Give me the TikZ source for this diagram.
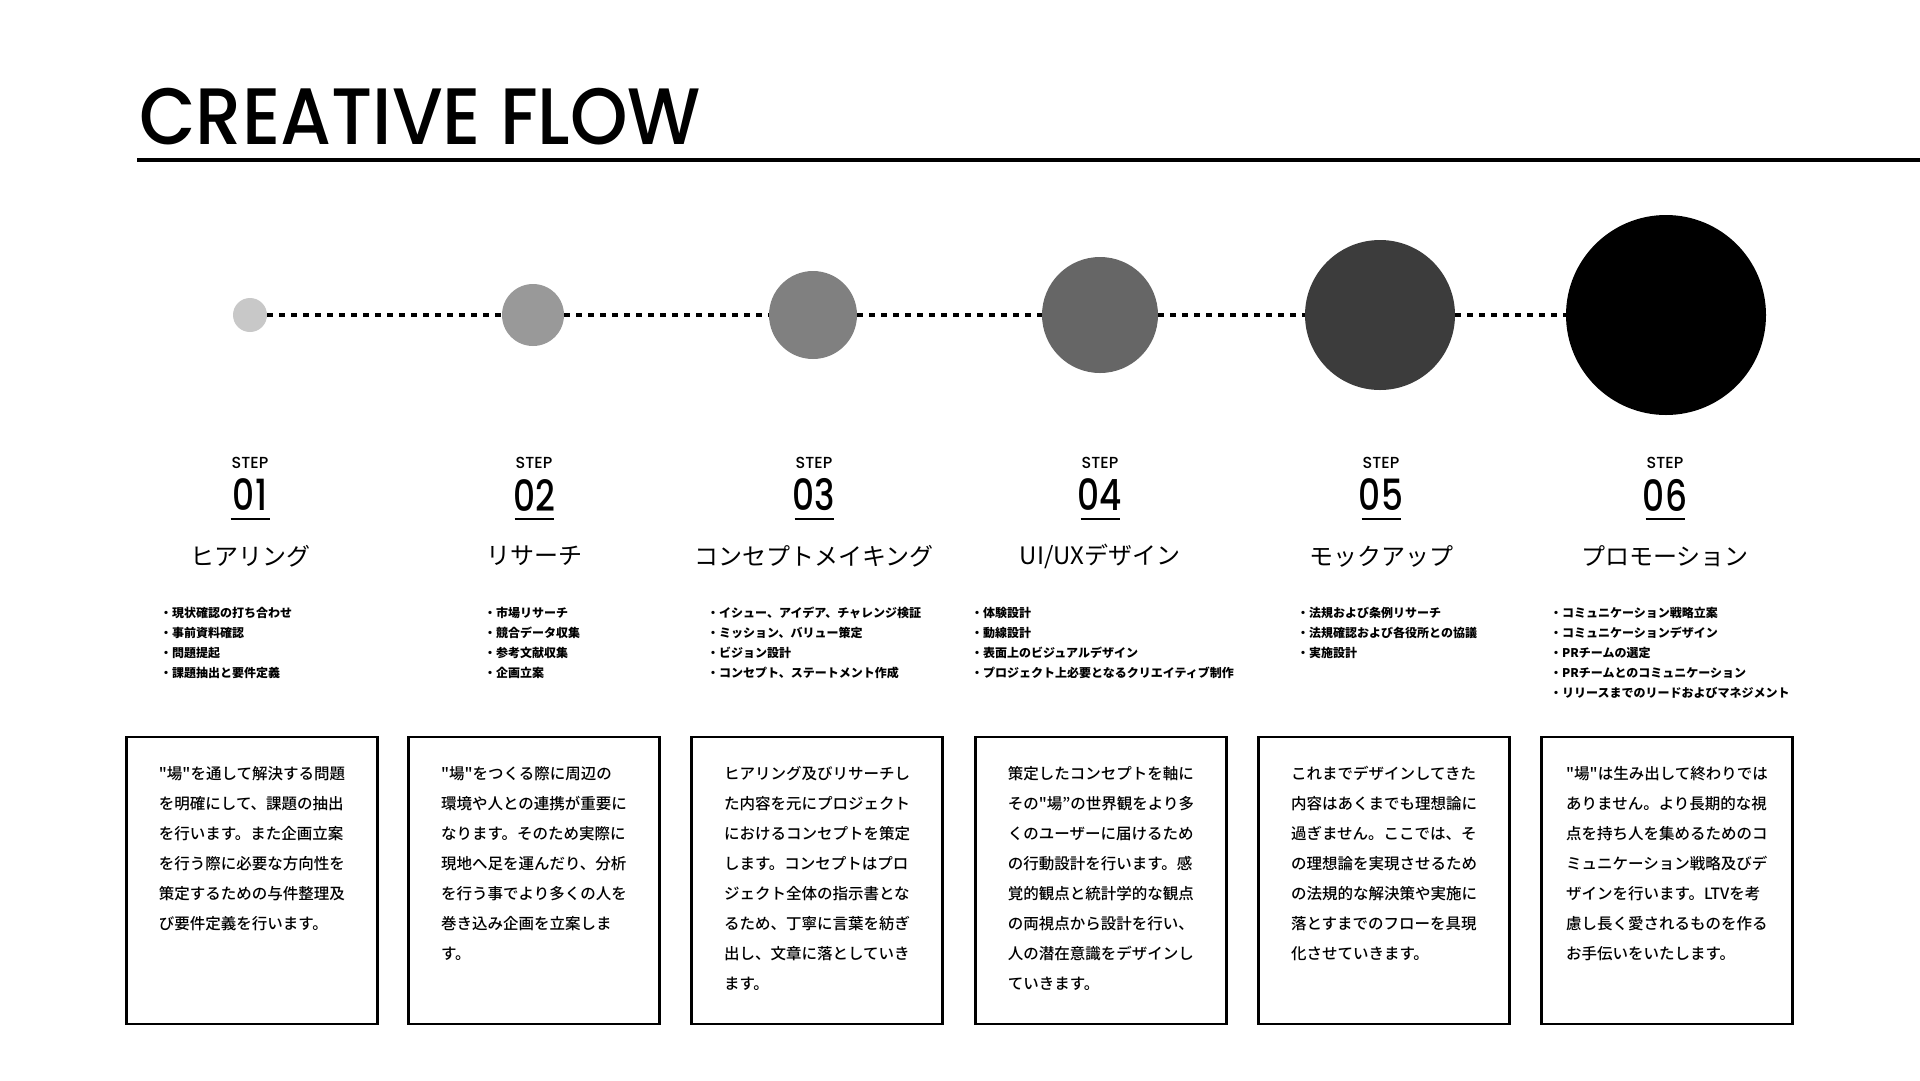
\documentclass[tikz,border=0pt]{standalone}
\usepackage{fontspec}
\setmainfont{Noto Sans CJK JP}[Ligatures=TeXOff, BoldFont=* Medium]
\newfontfamily\listfont{Noto Sans CJK JP}[Ligatures=TeXOff]
\newfontfamily\titlefont{Poppins}[UprightFont=* Medium, FakeStretch=0.915]
\newfontfamily\numfont{Poppins}[UprightFont=* Medium, FakeStretch=0.8]
\newfontfamily\stepfont{Poppins}[UprightFont=* Medium]

\definecolor{dotA}{HTML}{C8C8C8}
\definecolor{dotB}{HTML}{999999}
\definecolor{dotC}{HTML}{808080}
\definecolor{dotD}{HTML}{666666}
\definecolor{dotE}{HTML}{3C3C3C}

\newcommand\textlines[1]{\begin{tabular}[t]{@{}l@{}}#1\end{tabular}}

\tikzset{
  dotline/.style={line width=4pt, dash pattern=on 6pt off 6pt},
  stepdot/.style={circle, inner sep=0pt, draw=none},
  steplabel/.style={inner sep=0pt, font=\stepfont\fontsize{16}{16}\selectfont},
  stepnum/.style={inner sep=0pt, font=\numfont\fontsize{43}{43}\selectfont},
  stepname/.style={inner sep=0pt, font=\fontsize{24}{24}\selectfont},
  itemlist/.style={anchor=base west, inner sep=0pt, font=\listfont\bfseries\fontsize{12}{20.2}\selectfont},
  descbox/.style={draw, line width=2.5pt, minimum width=251pt, minimum height=287pt, inner sep=0pt},
  desctext/.style={anchor=base, inner sep=0pt, font=\bfseries\fontsize{15.5}{30}\selectfont},
}

\begin{document}
\begin{tikzpicture}[x=1pt, y=-1pt]
  \fill[white] (0,0) rectangle (1920,1080);
  \useasboundingbox (0,0) rectangle (1920,1080);

  % Title and rule
  \node[anchor=base west, inner sep=0pt, font=\titlefont\fontsize{80}{80}\selectfont] (title) at (139,144) {CREATIVE FLOW};
  \draw[line width=4pt] (137,160) -- (1920,160);

  % Growing dots
  \foreach \i/\x/\r/\col in {1/250/17/dotA, 2/533/31/dotB, 3/813/44/dotC,
                             4/1100/58/dotD, 5/1380/75/dotE, 6/1666/100/black}
    \node[stepdot, fill=\col, minimum size=2*\r pt] (c\i) at (\x,315) {};
  \foreach \i [count=\j from 2] in {1,...,5}
    \draw[dotline] (c\i) -- (c\j);

  % Step headings
  \foreach \i/\x/\name in {1/250/ヒアリング, 2/534/リサーチ, 3/814/コンセプトメイキング,
                           4/1100/{UI/UXデザイン}, 5/1381/モックアップ, 6/1665/プロモーション} {
    \node[steplabel] (step\i) at (\x,463) {STEP};
    \node[stepnum] (num\i) at (\x,495) {0\i};
    \draw[line width=1.5pt] (\x-19.5,519) -- (\x+19.5,519);
    \node[stepname] (name\i) at (\x,556) {\name};
  }

  % Task lists
  \node[itemlist] (list1) at (160,617) {\textlines{・現状確認の打ち合わせ\\・事前資料確認\\・問題提起\\・課題抽出と要件定義}};
  \node[itemlist] (list2) at (484,617) {\textlines{・市場リサーチ\\・競合データ収集\\・参考文献収集\\・企画立案}};
  \node[itemlist] (list3) at (707,617) {\textlines{・イシュー、アイデア、チャレンジ検証\\・ミッション、バリュー策定\\・ビジョン設計\\・コンセプト、ステートメント作成}};
  \node[itemlist] (list4) at (971,617) {\textlines{・体験設計\\・動線設計\\・表面上のビジュアルデザイン\\・プロジェクト上必要となるクリエイティブ制作}};
  \node[itemlist] (list5) at (1297,617) {\textlines{・法規および条例リサーチ\\・法規確認および各役所との協議\\・実施設計}};
  \node[itemlist] (list6) at (1550,617) {\textlines{・コミュニケーション戦略立案\\・コミュニケーションデザイン\\・PRチームの選定\\・PRチームとのコミュニケーション\\・リリースまでのリードおよびマネジメント}};

  % Description boxes
  \foreach \i/\x in {1/252, 2/534, 3/817, 4/1101, 5/1384, 6/1667}
    \node[descbox] (box\i) at (\x,880.5) {};

  \node[desctext] (text1) at ([yshift=-44pt]box1.north) {\textlines{"場"を通して解決する問題\\を明確にして、課題の抽出\\を行います。また企画立案\\を行う際に必要な方向性を\\策定するための与件整理及\\び要件定義を行います。}};
  \node[desctext] (text2) at ([yshift=-44pt]box2.north) {\textlines{"場"をつくる際に周辺の\\環境や人との連携が重要に\\なります。そのため実際に\\現地へ足を運んだり、分析\\を行う事でより多くの人を\\巻き込み企画を立案しま\\す。}};
  \node[desctext] (text3) at ([yshift=-44pt]box3.north) {\textlines{ヒアリング及びリサーチし\\た内容を元にプロジェクト\\におけるコンセプトを策定\\します。コンセプトはプロ\\ジェクト全体の指示書とな\\るため、丁寧に言葉を紡ぎ\\出し、文章に落としていき\\ます。}};
  \node[desctext] (text4) at ([yshift=-44pt]box4.north) {\textlines{策定したコンセプトを軸に\\その"場”の世界観をより多\\くのユーザーに届けるため\\の行動設計を行います。感\\覚的観点と統計学的な観点\\の両視点から設計を行い、\\人の潜在意識をデザインし\\ていきます。}};
  \node[desctext] (text5) at ([yshift=-44pt]box5.north) {\textlines{これまでデザインしてきた\\内容はあくまでも理想論に\\過ぎません。ここでは、そ\\の理想論を実現させるため\\の法規的な解決策や実施に\\落とすまでのフローを具現\\化させていきます。}};
  \node[desctext] (text6) at ([yshift=-44pt]box6.north) {\textlines{"場"は生み出して終わりでは\\ありません。より長期的な視\\点を持ち人を集めるためのコ\\ミュニケーション戦略及びデ\\ザインを行います。LTVを考\\慮し長く愛されるものを作る\\お手伝いをいたします。}};
\end{tikzpicture}
\end{document}
